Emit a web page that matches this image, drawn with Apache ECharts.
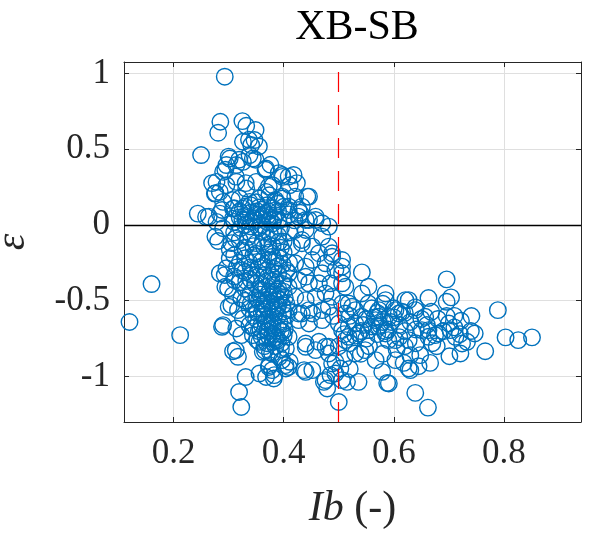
<!DOCTYPE html>
<html>
<head>
<meta charset="utf-8">
<script src="https://cdn.jsdelivr.net/npm/echarts@6/dist/echarts.min.js"></script>
<style>
	html, body { margin: 0; padding: 0; background: #fff; }
	#chart { width: 590px; height: 534px; }
</style>
</head>
<body>
<div id="chart"></div>
<script>
// axis limits and label texts
var ibRange = [0.11, 0.94];
var epsRange = [-1.3, 1.075];
var ibThreshold = 0.5;
var titleText = 'XB-SB';

// [Ib, epsilon] pairs, grouped by region
var upperPoints = [
	[0.293,0.978],[0.285,0.681],[0.281,0.608],[0.325,0.685],[0.332,0.654],[0.349,0.626],[0.347,0.56],
	[0.25,0.461],[0.326,0.549],[0.341,0.527],[0.338,0.461],[0.302,0.438],[0.296,0.395],[0.29,0.35],
	[0.314,0.395],[0.326,0.416],[0.344,0.438],[0.368,0.372],[0.398,0.317],[0.278,0.284],[0.284,0.218],
	[0.275,0.207],[0.296,0.262],[0.314,0.284],[0.35,0.284],[0.38,0.262],[0.332,0.24],[0.368,0.218],
	[0.411,0.262],[0.244,0.075],[0.259,0.053],[0.284,0.075],[0.278,0.02],[0.308,0.108],[0.29,0.152],
	[0.32,0.174],[0.338,0.152],[0.356,0.174],[0.374,0.196],[0.386,0.152],[0.398,0.174],[0.308,0.042],
	[0.326,0.108],[0.418,0.33],[0.424,0.276],[0.443,0.187],[0.397,0.33],[0.367,0.364],[0.349,0.43],
	[0.355,0.518],[0.337,0.562],[0.373,0.253],[0.385,0.165],[0.409,0.121],[0.427,0.099],[0.458,0.055],
	[0.47,0.011],[0.44,0.033],[0.288,0.099],[0.264,0.055],[0.306,0.165],[0.276,0.21],[0.27,0.276],
	[0.294,0.364],[0.3,0.451],[0.319,0.43],[0.313,0.319],[0.331,0.276],[0.446,0.187],[0.409,0.319],
	[0.391,0.342],[0.376,0.397],[0.421,0.187],[0.433,0.121],[0.458,0.033],[0.446,0.033],[0.427,0.055],
	[0.409,0.099],[0.397,0.187]
];

var coreTop = [
	[0.31,0.02],[0.32,0.05],[0.33,0.0],[0.34,0.08],[0.35,0.03],[0.36,0.1],[0.37,0.06],[0.38,0.01],
	[0.39,0.09],[0.40,0.04],[0.33,0.12],[0.35,0.15],[0.37,0.13],[0.39,0.14],[0.41,0.07],[0.32,0.09],
	[0.34,-0.01],[0.36,0.04],[0.38,0.11],[0.35,0.07],[0.37,0.02],[0.33,0.06],[0.36,0.0],[0.39,0.03],
	[0.34,0.13],[0.31,0.11],[0.40,0.12],[0.42,0.03],[0.43,0.08],[0.345,0.045],[0.365,0.075],
	[0.355,0.115],[0.325,0.035],[0.385,0.065],[0.375,0.035],[0.342,0.02],[0.352,0.09],[0.362,0.06],
	[0.372,0.09],[0.382,0.04],[0.332,0.03],[0.322,-0.02]
];

var coreMiddle = [
	[0.31,-0.05],[0.32,-0.1],[0.33,-0.15],[0.34,-0.06],[0.35,-0.12],[0.36,-0.04],[0.37,-0.09],
	[0.38,-0.14],[0.39,-0.07],[0.40,-0.11],[0.31,-0.2],[0.32,-0.25],[0.33,-0.22],[0.34,-0.28],
	[0.35,-0.19],[0.36,-0.24],[0.37,-0.3],[0.38,-0.21],[0.39,-0.27],[0.40,-0.18],[0.31,-0.34],
	[0.32,-0.38],[0.33,-0.31],[0.34,-0.36],[0.35,-0.33],[0.36,-0.39],[0.37,-0.35],[0.38,-0.4],
	[0.39,-0.32],[0.40,-0.37],[0.41,-0.25],[0.41,-0.05],[0.305,-0.12],[0.325,-0.17],[0.345,-0.2],
	[0.365,-0.15],[0.385,-0.24],[0.395,-0.02],[0.355,-0.02],[0.335,-0.08],[0.375,-0.18],[0.355,-0.28],
	[0.325,-0.3],[0.395,-0.15],[0.345,-0.14],[0.365,-0.33],[0.385,-0.36],[0.405,-0.3],[0.315,-0.28],
	[0.375,-0.06],[0.281,-0.106],[0.29,-0.022],[0.302,-0.22],[0.296,-0.286],[0.293,-0.33],
	[0.276,-0.077],[0.284,-0.319],[0.311,-0.364],[0.352,-0.21],[0.362,-0.27],[0.372,-0.23],
	[0.382,-0.29],[0.392,-0.22],[0.398,-0.26],[0.342,-0.33],[0.332,-0.37],[0.362,-0.11],
	[0.372,-0.13],[0.382,-0.05],[0.392,-0.11],[0.312,-0.09],[0.302,-0.16],[0.338,-0.25]
];

var coreLower = [
	[0.33,-0.42],[0.34,-0.45],[0.35,-0.48],[0.36,-0.43],[0.37,-0.5],[0.38,-0.46],[0.39,-0.53],
	[0.40,-0.44],[0.35,-0.55],[0.36,-0.58],[0.37,-0.62],[0.38,-0.56],[0.39,-0.6],[0.40,-0.57],
	[0.36,-0.66],[0.37,-0.7],[0.38,-0.64],[0.39,-0.68],[0.40,-0.65],[0.36,-0.74],[0.37,-0.78],
	[0.38,-0.72],[0.39,-0.76],[0.40,-0.73],[0.35,-0.62],[0.34,-0.52],[0.33,-0.5],[0.355,-0.7],
	[0.365,-0.52],[0.375,-0.44],[0.385,-0.5],[0.395,-0.46],[0.405,-0.52],[0.345,-0.6],[0.365,-0.6],
	[0.385,-0.58],[0.375,-0.66],[0.395,-0.7],[0.405,-0.6],[0.355,-0.42],[0.385,-0.8],[0.375,-0.84],
	[0.395,-0.82],[0.365,-0.8],[0.345,-0.68],[0.355,-0.5],[0.39,-0.42],[0.37,-0.55],[0.38,-0.68],
	[0.36,-0.5],[0.299,-0.418],[0.305,-0.529],[0.317,-0.562],[0.323,-0.727],[0.314,-0.683],
	[0.308,-0.833],[0.317,-0.87],[0.308,-0.463],[0.323,-0.485],[0.326,-0.617],[0.338,-0.551],
	[0.338,-0.661],[0.344,-0.727],[0.356,-0.771],[0.38,-0.771],[0.398,-0.705],[0.404,-0.815],
	[0.411,-0.903],[0.294,-0.408],[0.3,-0.54],[0.288,-0.672],[0.29,-0.661],[0.313,-0.826],
	[0.367,-0.738],[0.362,-0.837],[0.392,-0.87],[0.409,-0.738],[0.385,-0.76],[0.379,-0.848],
	[0.368,-0.41],[0.378,-0.37],[0.388,-0.44],[0.398,-0.39],[0.358,-0.46],[0.348,-0.39],
	[0.372,-0.47],[0.392,-0.49],[0.402,-0.48],[0.362,-0.55],[0.378,-0.52],[0.388,-0.55],
	[0.398,-0.53],[0.352,-0.58],[0.368,-0.64],[0.382,-0.61],[0.392,-0.64],[0.402,-0.69],
	[0.358,-0.69],[0.372,-0.73],[0.386,-0.74],[0.396,-0.78],[0.352,-0.76],[0.366,-0.83]
];

var bottomPoints = [
	[0.331,-1.003],[0.319,-1.102],[0.323,-1.201],[0.356,-0.98],[0.368,-1.003],[0.383,-0.991],
	[0.374,-0.925],[0.404,-0.947],[0.379,-0.958],[0.403,-0.925],[0.44,-0.969],[0.476,-1.024],
	[0.409,-0.937],[0.397,-0.892],[0.382,-1.013],[0.373,-0.937],[0.479,-1.079],[0.473,-1.035],
	[0.485,-0.991],[0.503,-0.947],[0.515,-1.035],[0.494,-0.903],[0.452,-0.958],[0.437,-0.958],
	[0.494,-0.98],[0.506,-1.024],[0.5,-1.168],[0.536,-1.035],[0.588,-1.042],[0.591,-1.046],
	[0.639,-1.108],[0.662,-1.205]
];

var bridgePoints = [
	[0.47,-0.077],[0.482,-0.143],[0.488,-0.21],[0.476,-0.253],[0.494,-0.297],[0.485,-0.385],
	[0.47,-0.319],[0.452,-0.143],[0.452,-0.231],[0.44,-0.275],[0.464,-0.187],[0.433,-0.099],
	[0.421,-0.033],[0.44,-0.033],[0.415,-0.143],[0.421,-0.253],[0.409,-0.319],[0.427,-0.364],
	[0.446,-0.385],[0.464,-0.385],[0.476,-0.452],[0.458,-0.474],[0.44,-0.496],[0.421,-0.474],
	[0.409,-0.408],[0.488,-0.474],[0.506,-0.518],[0.512,-0.584],[0.47,-0.562],[0.446,-0.562],
	[0.427,-0.584],[0.409,-0.562],[0.482,-0.54],[0.452,-0.584],[0.427,-0.628],[0.446,-0.65],
	[0.47,-0.628],[0.44,-0.342],[0.433,-0.121],[0.482,-0.011],[0.488,-0.187],[0.506,-0.275],
	[0.512,-0.408],[0.44,-0.782],[0.458,-0.826],[0.482,-0.848],[0.488,-0.914],[0.44,-0.804],
	[0.476,-0.804],[0.464,-0.771],[0.433,-0.584],[0.482,-0.804],[0.506,-0.231],[0.506,-0.319],
	[0.506,-0.385],[0.542,-0.313],[0.554,-0.408],[0.585,-0.452],[0.542,-0.452]
];

var rightPoints = [
	[0.52,-0.6],[0.53,-0.65],[0.54,-0.7],[0.55,-0.62],[0.56,-0.67],[0.57,-0.72],[0.58,-0.64],
	[0.59,-0.69],[0.6,-0.61],[0.61,-0.66],[0.62,-0.7],[0.55,-0.75],[0.57,-0.58],[0.59,-0.76],
	[0.61,-0.74],[0.63,-0.64],[0.64,-0.69],[0.53,-0.73],[0.56,-0.55],[0.58,-0.52],[0.6,-0.55],
	[0.62,-0.58],[0.65,-0.62],[0.545,-0.66],[0.565,-0.61],[0.585,-0.7],[0.575,-0.66],[0.595,-0.64],
	[0.555,-0.8],[0.605,-0.82],[0.66,-0.66],[0.68,-0.62],[0.69,-0.7],[0.70,-0.65],[0.71,-0.6],
	[0.72,-0.72],[0.74,-0.7],[0.62,-0.8],[0.64,-0.78],[0.67,-0.78],[0.54,-0.85],[0.58,-0.85],
	[0.52,-0.78],[0.5,-0.65],[0.51,-0.72],[0.5,-0.8],[0.51,-0.88],[0.52,-0.95],[0.49,-0.6],
	[0.585,-0.496],[0.573,-0.606],[0.524,-0.54],[0.603,-0.562],[0.621,-0.496],[0.639,-0.544],
	[0.518,-0.518],[0.518,-0.672],[0.518,-0.738],[0.536,-0.716],[0.542,-0.606],[0.567,-0.628],
	[0.573,-0.672],[0.585,-0.716],[0.603,-0.76],[0.663,-0.694],[0.681,-0.716],[0.712,-0.738],
	[0.724,-0.782],[0.548,-0.826],[0.603,-0.892],[0.63,-0.859],[0.573,-0.562],[0.591,-0.606],
	[0.609,-0.584],[0.554,-0.518],[0.53,-0.562],[0.627,-0.947],[0.579,-0.969],[0.567,-0.892],
	[0.721,-0.848],[0.696,-0.507],[0.657,-0.606],[0.627,-0.76],[0.53,-0.848],[0.512,-0.76],
	[0.554,-0.694],[0.506,-0.694],[0.696,-0.359],[0.704,-0.478],[0.789,-0.562],[0.803,-0.742],
	[0.826,-0.76],[0.851,-0.742],[0.766,-0.833],[0.701,-0.866],[0.663,-0.482],[0.741,-0.601],
	[0.747,-0.716],[0.733,-0.771],[0.722,-0.632],[0.71,-0.676],[0.696,-0.601],[0.678,-0.8],
	[0.666,-0.91],[0.645,-0.932],[0.63,-0.958],[0.618,-0.91],[0.663,-0.738],[0.627,-0.496],
	[0.668,-0.573],[0.648,-0.859],[0.703,-0.694],[0.639,-0.562],[0.615,-0.573],[0.651,-0.694],
	[0.675,-0.727]
];

var leftOutliers = [[0.12,-0.64],[0.16,-0.39],[0.212,-0.727]];

var allPoints = [].concat(upperPoints, coreTop, coreMiddle, coreLower, bottomPoints, bridgePoints, rightPoints, leftOutliers);

var serif = 'Liberation Serif';
var axisColor = '#262626';

var chart = echarts.init(document.getElementById('chart'));

function boxAxis(pos, range, n)
{
	return {
		type: 'value', position: pos, min: range[0], max: range[1], splitNumber: n,
		axisLine: { show: true, onZero: false, lineStyle: { color: axisColor, width: 1 } },
		axisTick: { show: true, inside: true, length: 5, lineStyle: { color: axisColor } },
		axisLabel: { show: false },
		splitLine: { show: false }
	};
}

var options =
{
	animation: false,
	textStyle: { fontFamily: serif },
	title:
	{
		text: titleText,
		left: 352,
		top: 2,
		textAlign: 'center',
		textStyle: { fontFamily: serif, fontSize: 42, fontWeight: 'normal', color: '#000' }
	},
	grid: { left: 124, right: 9, top: 62, bottom: 112, containLabel: false, outerBoundsMode: 'none' },
	xAxis:
	[
		{
			type: 'value', position: 'bottom', min: ibRange[0], max: ibRange[1], splitNumber: 4,
			axisLine: { show: true, onZero: false, lineStyle: { color: axisColor, width: 1 } },
			axisTick: { show: true, inside: true, length: 5, lineStyle: { color: axisColor } },
			axisLabel: { showMinLabel: false, showMaxLabel: false, color: axisColor, fontFamily: serif, fontSize: 35, margin: 14 },
			splitLine: { show: true, lineStyle: { color: '#dfdfdf', width: 1 } },
			name: '{i|Ib} (-)',
			nameLocation: 'middle',
			nameGap: 66,
			nameTextStyle:
			{
				fontFamily: serif, fontSize: 42, color: axisColor,
				rich: { i: { fontFamily: serif, fontSize: 42, fontStyle: 'italic', color: axisColor } }
			}
		},
		boxAxis('top', ibRange, 4)
	],
	yAxis:
	[
		{
			type: 'value', position: 'left', min: epsRange[0], max: epsRange[1], splitNumber: 5,
			axisLine: { show: true, onZero: false, lineStyle: { color: axisColor, width: 1 } },
			axisTick: { show: true, inside: true, length: 5, lineStyle: { color: axisColor } },
			axisLabel: { showMinLabel: false, showMaxLabel: false, color: axisColor, fontFamily: serif, fontSize: 35, margin: 14 },
			splitLine: { show: true, lineStyle: { color: '#dfdfdf', width: 1 } },
			name: 'ε',
			nameLocation: 'middle',
			nameRotate: 90,
			nameGap: 90,
			nameTextStyle: { fontFamily: serif, fontSize: 42, fontStyle: 'italic', color: axisColor }
		},
		boxAxis('right', epsRange, 5)
	],
	series:
	[
		{
			type: 'scatter',
			xAxisIndex: 0,
			yAxisIndex: 0,
			symbol: 'circle',
			symbolSize: 16.5,
			itemStyle: { color: 'rgba(0,0,0,0)', borderColor: '#0072BD', borderWidth: 1.4, opacity: 1 },
			data: allPoints,
			markLine:
			{
				silent: true,
				symbol: 'none',
				label: { show: false },
				animation: false,
				data:
				[
					{ yAxis: 0, lineStyle: { color: '#000', type: 'solid', width: 1.3 } },
					{ xAxis: ibThreshold, lineStyle: { color: '#ff0000', type: [20, 13], width: 1.2 } }
				]
			}
		}
	]
};

chart.setOption(options);
</script>
</body>
</html>
